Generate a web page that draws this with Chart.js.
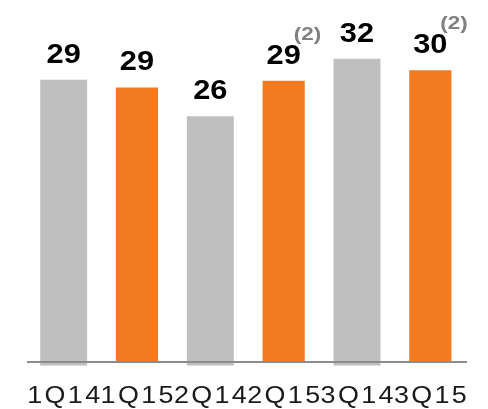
<!DOCTYPE html>
<html>
<head>
<meta charset="utf-8">
<script src="https://cdn.jsdelivr.net/npm/chart.js@4/dist/chart.umd.min.js"></script>
<style>
  html, body { margin: 0; padding: 0; background: #fff; }
  #wrap { width: 488px; height: 409px; }
</style>
</head>
<body>
<div id="wrap"><canvas id="grafico"></canvas></div>
<script>
// dados
const categorias = ['1Q14', '1Q15', '2Q14', '2Q15', '3Q14', '3Q15'];
const valores = [29.4, 28.6, 25.6, 29.3, 31.6, 30.4];
const notas = ['', '', '', '(2)', '', '(2)'];
const anoAnterior = ['1Q14', '2Q14', '3Q14'];

const CINZA = '#BFBFBF';
const LARANJA = '#F27A21';
const FONTE = '"Liberation Sans", Arial, sans-serif';

const dadosCinza = categorias.map((c, i) => anoAnterior.includes(c) ? valores[i] : null);
const dadosLaranja = categorias.map((c, i) => anoAnterior.includes(c) ? null : valores[i]);

// escreve texto esticado na horizontal
function textoEsticado(ctx, txt, x, y, escala, align, espaco) {
  ctx.save();
  ctx.translate(x, y);
  ctx.scale(escala, 1);
  ctx.textAlign = align || 'center';
  if (espaco) {
    ctx.letterSpacing = espaco + 'px';
    ctx.translate(espaco / 2, 0);
  }
  ctx.fillText(txt, 0, 0);
  ctx.restore();
}

const rotulos = {
  id: 'rotulos',
  afterDatasetsDraw(chart) {
    const ctx = chart.ctx;
    const x = chart.scales.x;
    const y = chart.scales.y;
    const y0 = y.getPixelForValue(0);

    // linha do eixo
    ctx.save();
    ctx.strokeStyle = '#8C8C8C';
    ctx.lineWidth = 2;
    ctx.beginPath();
    ctx.moveTo(chart.chartArea.left, y0);
    ctx.lineTo(chart.chartArea.right, y0);
    ctx.stroke();
    ctx.restore();

    categorias.forEach((cat, i) => {
      const ds = dadosCinza[i] !== null ? 0 : 1;
      const barra = chart.getDatasetMeta(ds).data[i];
      const cx = barra.x;
      const base = barra.y - 17;

      ctx.save();
      ctx.fillStyle = '#000';
      ctx.textBaseline = 'alphabetic';
      ctx.font = 'bold 28px ' + FONTE;
      textoEsticado(ctx, String(Math.round(valores[i])), cx, base, 1.1);

      if (notas[i]) {
        ctx.fillStyle = '#808080';
        ctx.font = 'bold 18px ' + FONTE;
        textoEsticado(ctx, notas[i], cx + 10, base - 24, 1.25, 'left');
      }

      // rótulo da categoria
      ctx.fillStyle = '#1A1A1A';
      ctx.font = '23px ' + FONTE;
      textoEsticado(ctx, cat, x.getPixelForValue(i), 402.5, 1.17, 'center', 2);
      ctx.restore();
    });
  }
};

new Chart(document.getElementById('grafico'), {
  type: 'bar',
  data: {
    labels: categorias,
    datasets: [{
      data: dadosCinza,
      backgroundColor: CINZA,
      base: -0.4,
      barPercentage: 0.64,
      categoryPercentage: 1,
      skipNull: true
    }, {
      data: dadosLaranja,
      backgroundColor: LARANJA,
      barPercentage: 0.575,
      categoryPercentage: 1,
      skipNull: true
    }]
  },
  options: {
    responsive: true,
    maintainAspectRatio: false,
    animation: false,
    layout: { padding: { top: 16.4, bottom: 43.2, left: 27, right: 21 } },
    scales: {
      x: { display: false },
      y: { display: false, min: -0.4, max: 36 }
    },
    plugins: {
      legend: { display: false },
      tooltip: { enabled: false }
    }
  },
  plugins: [rotulos]
});
</script>
</body>
</html>
